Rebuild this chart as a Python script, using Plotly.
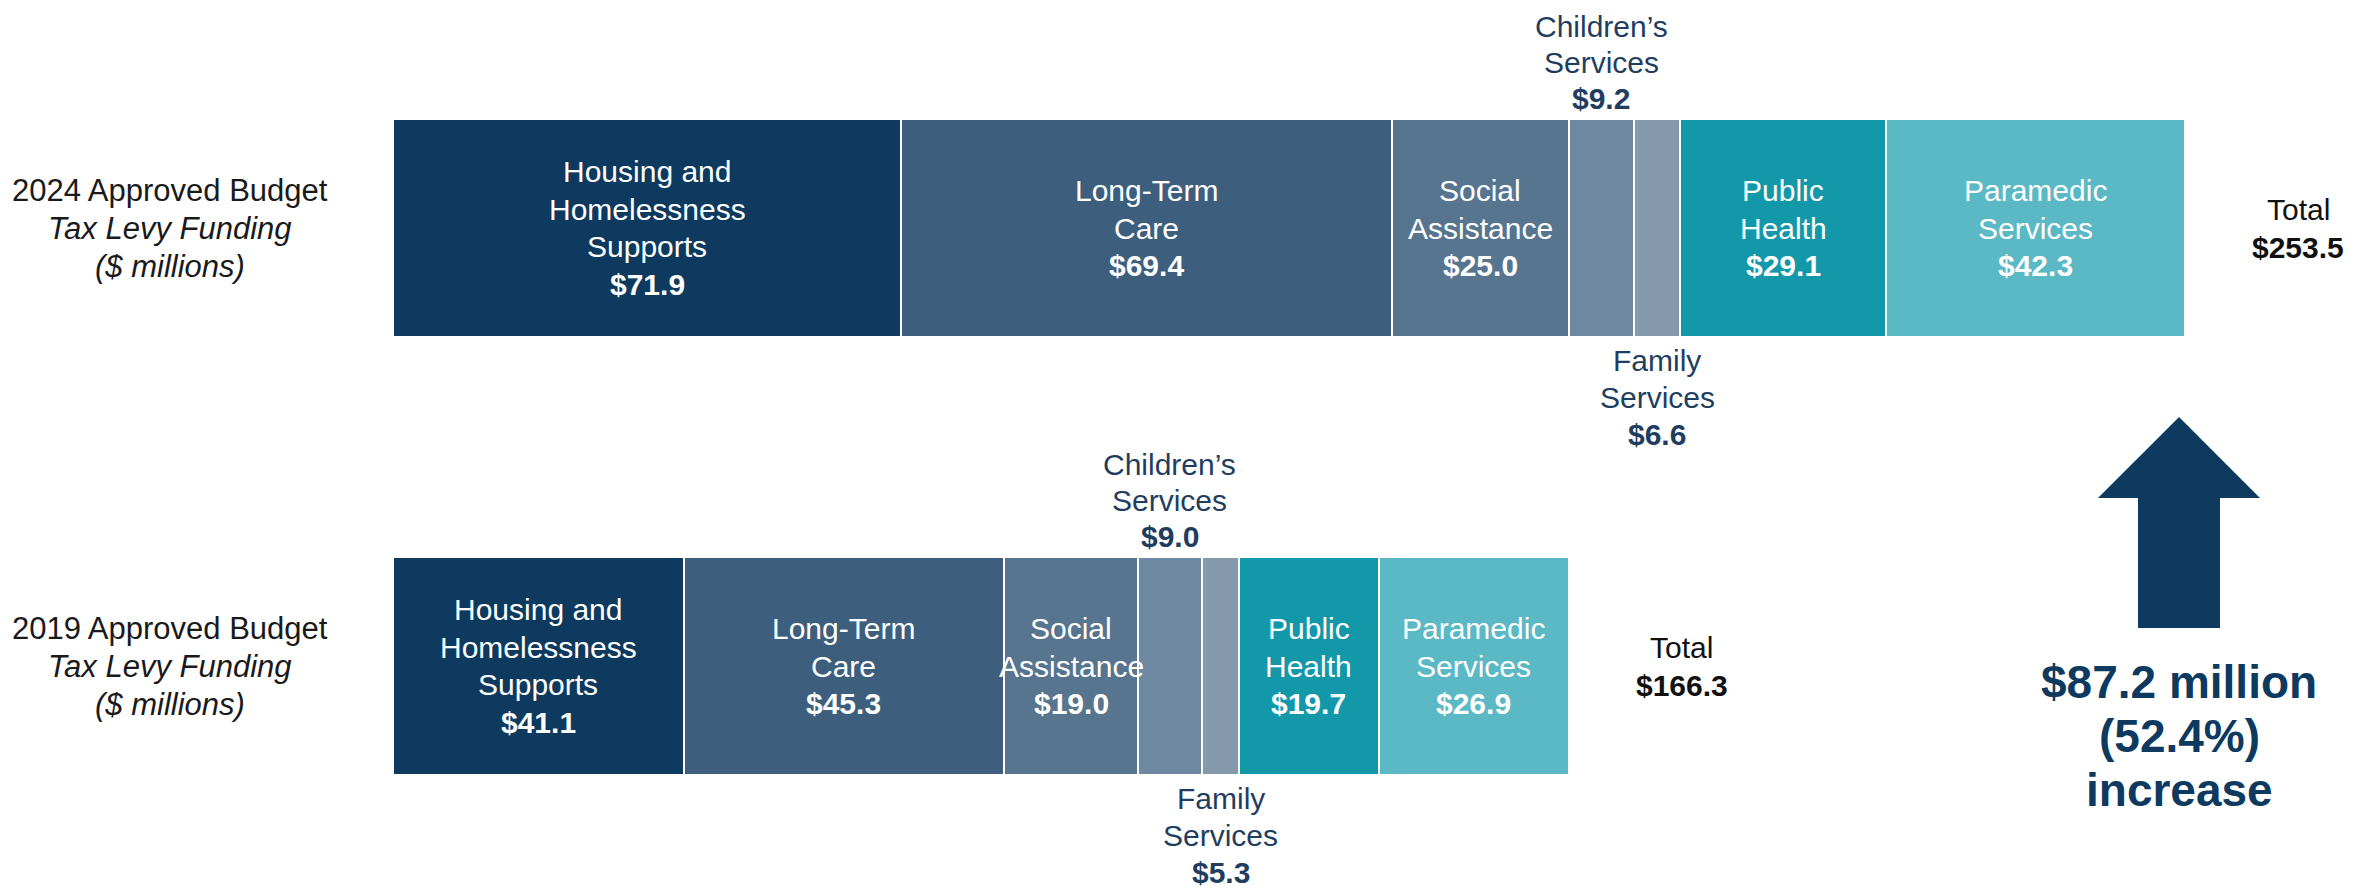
import plotly.graph_objects as go

# ---------------- data ----------------
years = ["2019", "2024"]
year_titles = ["2019 Approved Budget", "2024 Approved Budget"]
subtitle_lines = ["Tax Levy Funding", "($ millions)"]
categories = ["Housing and Homelessness Supports", "Long-Term Care", "Social Assistance",
              "Children’s Services", "Family Services", "Public Health", "Paramedic Services"]
label_lines = [["Housing and", "Homelessness", "Supports"], ["Long-Term", "Care"],
               ["Social", "Assistance"], ["Children’s", "Services"], ["Family", "Services"],
               ["Public", "Health"], ["Paramedic", "Services"]]
values_2019 = [41.1, 45.3, 19.0, 9.0, 5.3, 19.7, 26.9]
values_2024 = [71.9, 69.4, 25.0, 9.2, 6.6, 29.1, 42.3]

# ---------------- styles ----------------
colors = ["#0d3a5e", "#3d5f7d", "#57758f", "#6d88a0", "#8599ac", "#1398a9", "#5bb8c5"]
label_place = ["inside", "inside", "inside", "above", "below", "inside", "inside"]
FONT = "Liberation Sans, Arial, sans-serif"
NAVY = "#0e3a60"
OUT_COLOR = "#1f3e5f"

OFF = 8                       # browser default body margin
W, H = 2356 - OFF, 895 - OFF  # figure size
X0_PX = 393.0 - OFF           # pixel position of value 0
PX_PER_UNIT = 7.07
Y24_PX, Y19_PX = 228.0 - OFF, 666.0 - OFF
UNIT_PX = Y19_PX - Y24_PX
BAR_W = 218 / UNIT_PX
Y_RANGE = [-(H - Y19_PX) / UNIT_PX, 1 + Y24_PX / UNIT_PX]
X_RANGE = [-X0_PX / PX_PER_UNIT, (W - X0_PX) / PX_PER_UNIT]

series = {"2019": values_2019, "2024": values_2024}
yidx = {y: i for i, y in enumerate(years)}

fig = go.Figure()
for ci, cat in enumerate(categories):
    fig.add_trace(go.Bar(
        y=[yidx[y] for y in years],
        x=[series[y][ci] for y in years],
        orientation="h",
        name=cat,
        marker=dict(color=colors[ci], line=dict(color="white", width=2)),
        width=BAR_W,
        hoverinfo="name+x",
        showlegend=False,
    ))

annotations = []


def add_lines(x, y, lines, bold_flags, size, color, spacing, mode="middle",
              xref="x", yref="y", xshift=0, gap=0, italic_flags=None):
    n = len(lines)
    for i, line in enumerate(lines):
        if mode == "middle":
            off = ((n - 1) / 2.0 - i) * spacing
        elif mode == "above":
            off = gap + (n - 1 - i) * spacing
        else:  # below
            off = -(gap + i * spacing)
        txt = line
        if bold_flags[i]:
            txt = "<b>" + txt + "</b>"
        if italic_flags and italic_flags[i]:
            txt = "<i>" + txt + "</i>"
        annotations.append(dict(
            x=x, y=y, xref=xref, yref=yref, text=txt, showarrow=False,
            xanchor="center", yanchor="middle", xshift=xshift, yshift=off,
            borderpad=0,
            font=dict(family=FONT, size=size, color=color),
        ))


def px(v):
    return (v - OFF) / W


def py(v):
    return 1 - (v - OFF) / H


# segment labels, totals, row titles
for y in years:
    vals = series[y]
    base = 0.0
    for ci, v in enumerate(vals):
        cx = base + v / 2.0
        base += v
        lines = label_lines[ci] + ["$%.1f" % v]
        bolds = [False] * len(label_lines[ci]) + [True]
        if label_place[ci] == "inside":
            add_lines(cx, yidx[y], lines, bolds, 30, "white", 37.5, "middle")
        elif label_place[ci] == "above":
            add_lines(cx, yidx[y] + BAR_W / 2, lines, bolds, 30, OUT_COLOR, 36, "above", gap=21)
        else:
            add_lines(cx, yidx[y] - BAR_W / 2, lines, bolds, 30, OUT_COLOR, 37, "below", gap=23)
    total = sum(vals)
    add_lines(total, yidx[y], ["Total", "$%.1f" % total], [False, True], 30, "#111111", 38,
              "middle", xshift=113)
    add_lines(px(170), yidx[y], [year_titles[yidx[y]]] + subtitle_lines, [False, False, False],
              31, "#1a1a1a", 38, "middle", xref="paper", italic_flags=[False, True, True])

# increase callout
tot19, tot24 = sum(values_2019), sum(values_2024)
inc = tot24 - tot19
pct = inc / tot19 * 100
add_lines(px(2179), py(736),
          ["$%.1f million" % inc, "(%.1f%%)" % pct, "increase"], [True, True, True],
          46, NAVY, 54, "middle", xref="paper", yref="paper")

arrow_pts = [(2179, 417), (2260, 498), (2220, 498), (2220, 628), (2138, 628), (2138, 498), (2098, 498)]
path = "M " + " L ".join("%.5f,%.5f" % (px(a), py(b)) for a, b in arrow_pts) + " Z"

shapes = [
    dict(type="path", path=path, xref="paper", yref="paper", fillcolor=NAVY,
         line=dict(width=0)),
    dict(type="line", xref="paper", yref="paper", x0=px(2349), x1=px(2349), y0=0, y1=1,
         line=dict(color="#dcdcdc", width=2)),
]

fig.update_layout(
    width=W, height=H,
    margin=dict(l=0, r=0, t=0, b=0),
    barmode="stack",
    paper_bgcolor="white", plot_bgcolor="white",
    xaxis=dict(range=X_RANGE, visible=False, showgrid=False, zeroline=False),
    yaxis=dict(range=Y_RANGE, visible=False, showgrid=False, zeroline=False),
    annotations=annotations,
    shapes=shapes,
    font=dict(family=FONT),
)

fig.write_html("out.html")
